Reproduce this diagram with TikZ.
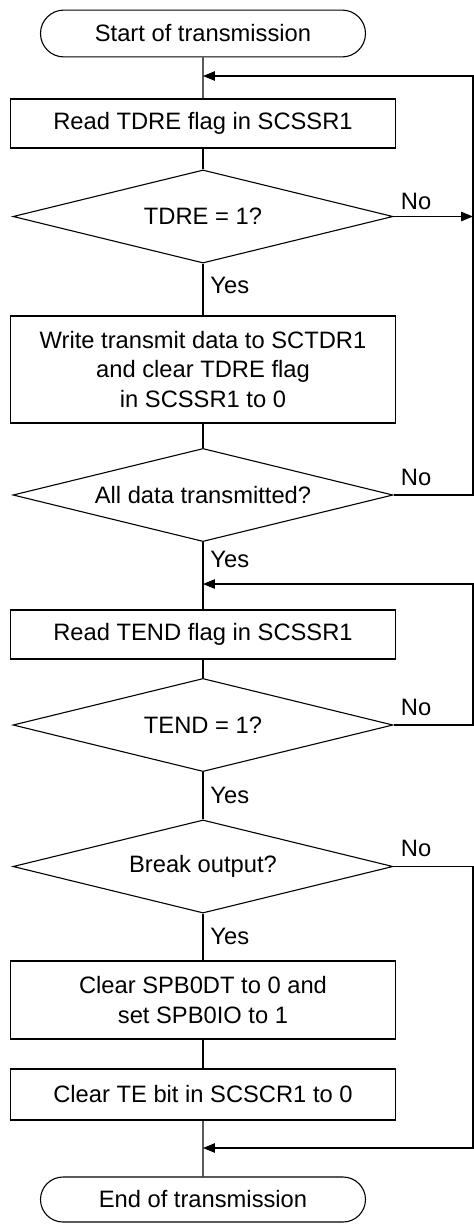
\documentclass[tikz,border=0pt]{standalone}
\usepackage{fontspec}
\setmainfont{Liberation Sans}
\usepackage{tikz}
\usetikzlibrary{positioning, arrows.meta, shapes.geometric, shapes.misc}

\begin{document}
\begin{tikzpicture}[
    line width=0.5pt,
    font=\fontsize{10.8}{13.5}\selectfont,
    term/.style={draw, rounded rectangle, minimum width=5.2cm, minimum height=0.75cm, inner sep=0pt},
    proc/.style={draw, rectangle, minimum width=6.16cm, inner sep=0pt, align=center},
    dec/.style={draw, diamond, aspect=4, inner sep=0pt, minimum width=6.08cm, minimum height=1.49cm},
    lbl/.style={inner sep=0pt},
    arr/.style={-{Triangle[length=1.9mm, width=1.5mm]}},
]
    \useasboundingbox (-3.248, 0) rectangle (4.336, -19.584);

    % Flow nodes
    \node[term] (start) at (0, -0.536) {Start of transmission};
    \node[proc, minimum height=0.784cm] (read1) at (0, -1.976) {Read TDRE flag in SCSSR1};
    \node[dec] (tdre) at (0, -3.464) {TDRE = 1?};
    \node[proc, minimum height=1.712cm] (write) at (0, -5.912)
        {Write transmit data to SCTDR1\\and clear TDRE flag\\in SCSSR1 to 0};
    \node[dec] (alldata) at (0, -7.92) {All data transmitted?};
    \node[proc, minimum height=0.784cm] (read2) at (0, -10.152) {Read TEND flag in SCSSR1};
    \node[dec] (tend) at (0, -11.6) {TEND = 1?};
    \node[dec] (brk) at (0, -13.864) {Break output?};
    \node[proc, minimum height=1.248cm] (spb) at (0, -16.0)
        {Clear SPB0DT to 0 and\\set SPB0IO to 1};
    \node[proc, minimum height=0.816cm] (clrte) at (0, -17.512) {Clear TE bit in SCSCR1 to 0};
    \node[term, minimum height=0.72cm] (finish) at (0, -19.192) {End of transmission};

    % Loop joints
    \coordinate (j1) at (0, -1.216);
    \coordinate (r1) at (4.32, -1.216);
    \coordinate (j2) at (0, -9.344);
    \coordinate (r2) at (4.32, -9.344);
    \coordinate (j3) at (0, -18.368);
    \coordinate (r3) at (4.32, -18.368);

    % Main line
    \draw (start) -- (read1);
    \draw (read1) -- (tdre);
    \draw (tdre) -- (write);
    \draw (write) -- (alldata);
    \draw (alldata) -- (read2);
    \draw (read2) -- (tend);
    \draw (tend) -- (brk);
    \draw (brk) -- (spb);
    \draw (spb) -- (clrte);
    \draw (clrte) -- (finish);

    % No branches
    \draw[arr] (tdre.east) -- (tdre.east -| r1);
    \draw[arr] (alldata.east) -| (r1) -- (j1);
    \draw[arr] (tend.east) -| (r2) -- (j2);
    \draw[arr] (brk.east) -| (r3) -- (j3);

    % Labels
    \node[lbl, above right=0.1cm and 0.11cm of tdre.east, anchor=south west] (no1) {No};
    \node[lbl, above right=0.14cm and 0.11cm of alldata.east, anchor=south west] (no2) {No};
    \node[lbl, above right=0.14cm and 0.11cm of tend.east, anchor=south west] (no3) {No};
    \node[lbl, above right=0.14cm and 0.11cm of brk.east, anchor=south west] (no4) {No};
    \node[lbl, below right=0.21cm and 0.11cm of tdre.south, anchor=north west] (yes1) {Yes};
    \node[lbl, below right=0.13cm and 0.11cm of alldata.south, anchor=north west] (yes2) {Yes};
    \node[lbl, below right=0.23cm and 0.11cm of tend.south, anchor=north west] (yes3) {Yes};
    \node[lbl, below right=0.23cm and 0.11cm of brk.south, anchor=north west] (yes4) {Yes};
\end{tikzpicture}
\end{document}
